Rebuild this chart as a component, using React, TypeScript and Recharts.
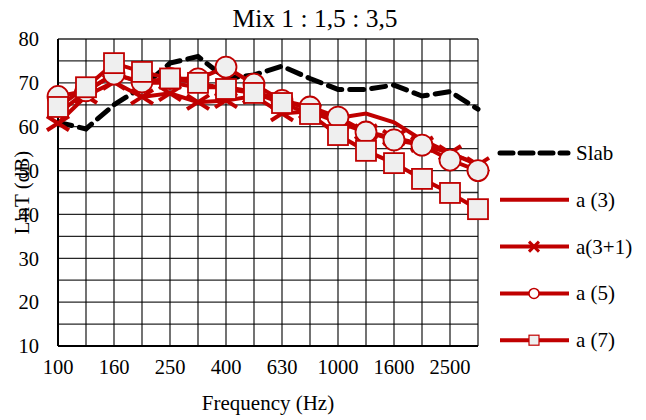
import React from 'react';
import { LineChart, Line, XAxis, YAxis, CartesianGrid } from 'recharts';

const frequencies = ['100', '125', '160', '200', '250', '315', '400', '500', '630', '800', '1000', '1250', '1600', '2000', '2500', '3150'];
const slab = [61, 59.5, 65, 69, 74.5, 76, 71, 71.8, 73.8, 71, 68.5, 68.5, 69.5, 67, 68, 64];
const a3 = [63, 68, 72, 70, 70, 69, 69, 68, 66, 64, 62, 63, 61, 57, 54, 51.5];
const a31 = [60.8, 67, 70.2, 66.8, 67.6, 65.6, 66, 67, 63, 63.5, 61, 58.8, 57.5, 56, 54, 51.3];
const a5 = [66.9, 68.2, 72, 70.2, 71, 70.9, 73.6, 69.7, 66, 64.5, 62.2, 58.8, 57, 55.8, 52.4, 50];
const a7 = [64.5, 69, 74.5, 72.5, 71, 70, 68.6, 67.7, 65.4, 62.9, 58.1, 54.5, 51.7, 48.1, 44.9, 41.2];
const yTicks = [10, 15, 20, 25, 30, 35, 40, 45, 50, 55, 60, 65, 70, 75, 80];

const seriesNames = ['Slab', 'a (3)', 'a(3+1)', 'a (5)', 'a (7)'];

const data = frequencies.map((f, i) => ({
  f,
  slab: slab[i],
  a3: a3[i],
  a31: a31[i],
  a5: a5[i],
  a7: a7[i],
}));

const RED = '#C00000';
const FONT = 'Liberation Serif, Times New Roman, serif';

const XDot = (props: any) => {
  const { cx, cy, index } = props;
  if (cx == null || cy == null) return <g key={`x-${index}`} />;
  return (
    <g key={`x-${index}`}>
      <line x1={cx - 11} y1={cy - 7} x2={cx + 11} y2={cy + 7} stroke={RED} strokeWidth={4} />
      <line x1={cx - 11} y1={cy + 7} x2={cx + 11} y2={cy - 7} stroke={RED} strokeWidth={4} />
    </g>
  );
};

const CircleDot = (props: any) => {
  const { cx, cy, index } = props;
  if (cx == null || cy == null) return <g key={`c-${index}`} />;
  return <circle key={`c-${index}`} cx={cx} cy={cy} r={10.5} fill="#EFEFEF" stroke={RED} strokeWidth={1.8} />;
};

const SquareDot = (props: any) => {
  const { cx, cy, index } = props;
  if (cx == null || cy == null) return <g key={`s-${index}`} />;
  return <rect key={`s-${index}`} x={cx - 10} y={cy - 10} width={20} height={20} fill="#EFEFEF" stroke={RED} strokeWidth={1.8} />;
};

const LegendBox = () => {
  const rowH = 46.8;
  return (
    <svg width={160} height={240} style={{ position: 'absolute', left: 480, top: 140, overflow: 'visible', fontFamily: FONT }}>
      {seriesNames.map((name, i) => {
        const y = 13 + i * rowH;
        return (
          <g key={name}>
            {i === 0 ? (
              <line x1={20} y1={y} x2={88} y2={y} stroke="#000" strokeWidth={5} strokeDasharray="13 7" strokeLinecap="round" />
            ) : (
              <line x1={20} y1={y} x2={89} y2={y} stroke={RED} strokeWidth={4} />
            )}
            {i === 2 && (
              <g>
                <line x1={49} y1={y - 5} x2={59} y2={y + 5} stroke={RED} strokeWidth={3} />
                <line x1={49} y1={y + 5} x2={59} y2={y - 5} stroke={RED} strokeWidth={3} />
              </g>
            )}
            {i === 3 && <circle cx={54} cy={y} r={5} fill="#fff" stroke={RED} strokeWidth={1.5} />}
            {i === 4 && <rect x={49} y={y - 5} width={10} height={10} fill="#EFEFEF" stroke={RED} strokeWidth={1.2} />}
            <text x={96} y={y + 7} style={{ fontFamily: FONT, fontSize: 21 }} fill="#000">
              {name}
            </text>
          </g>
        );
      })}
    </svg>
  );
};

const tickStyle = { fontFamily: FONT, fontSize: 20.5, fill: '#000' };

export default function App() {
  return (
    <div style={{ position: 'absolute', left: 0, top: 0, width: 646, height: 420, background: '#fff', fontFamily: FONT }}>
      <LineChart
        width={646}
        height={420}
        data={data}
        margin={{ top: 39, right: 168, bottom: 34, left: 0 }}
        style={{ fontFamily: FONT }}
      >
        <text x={315} y={27} textAnchor="middle" style={{ fontFamily: FONT, fontSize: 25.5 }} fill="#000">
          Mix 1 : 1,5 : 3,5
        </text>
        <CartesianGrid stroke="#000" strokeWidth={1.3} strokeOpacity={0.85} />
        <XAxis
          dataKey="f"
          scale="point"
          interval={0}
          height={40}
          tickLine={false}
          axisLine={{ stroke: '#000', strokeWidth: 2 }}
          tickFormatter={(v: string, i: number) => (i % 2 === 0 ? v : '')}
          tick={tickStyle}
          tickMargin={7}
          label={{ value: 'Frequency (Hz)', position: 'insideBottom', offset: -24, style: { fontFamily: FONT, fontSize: 21 }, fill: '#000' }}
        />
        <YAxis
          type="number"
          domain={[10, 80]}
          ticks={yTicks}
          interval={0}
          width={58}
          tickLine={false}
          axisLine={{ stroke: '#000', strokeWidth: 2 }}
          tickFormatter={(v: number) => (v % 10 === 0 ? String(v) : '')}
          tick={tickStyle}
          tickMargin={13}
          label={{ value: "L'nT (dB)", angle: -90, position: 'insideLeft', offset: 22, style: { fontFamily: FONT, fontSize: 21, textAnchor: 'middle' }, fill: '#000' }}
        />
        <Line dataKey="slab" name="Slab" stroke="#000" strokeWidth={5} strokeDasharray="14 8" strokeLinecap="round" dot={false} isAnimationActive={false} />
        <Line dataKey="a3" name="a (3)" stroke={RED} strokeWidth={4} dot={false} isAnimationActive={false} />
        <Line dataKey="a31" name="a(3+1)" stroke={RED} strokeWidth={4} dot={XDot} isAnimationActive={false} />
        <Line dataKey="a5" name="a (5)" stroke={RED} strokeWidth={4} dot={CircleDot} isAnimationActive={false} />
        <Line dataKey="a7" name="a (7)" stroke={RED} strokeWidth={4} dot={SquareDot} isAnimationActive={false} />
      </LineChart>
      <LegendBox />
    </div>
  );
}
